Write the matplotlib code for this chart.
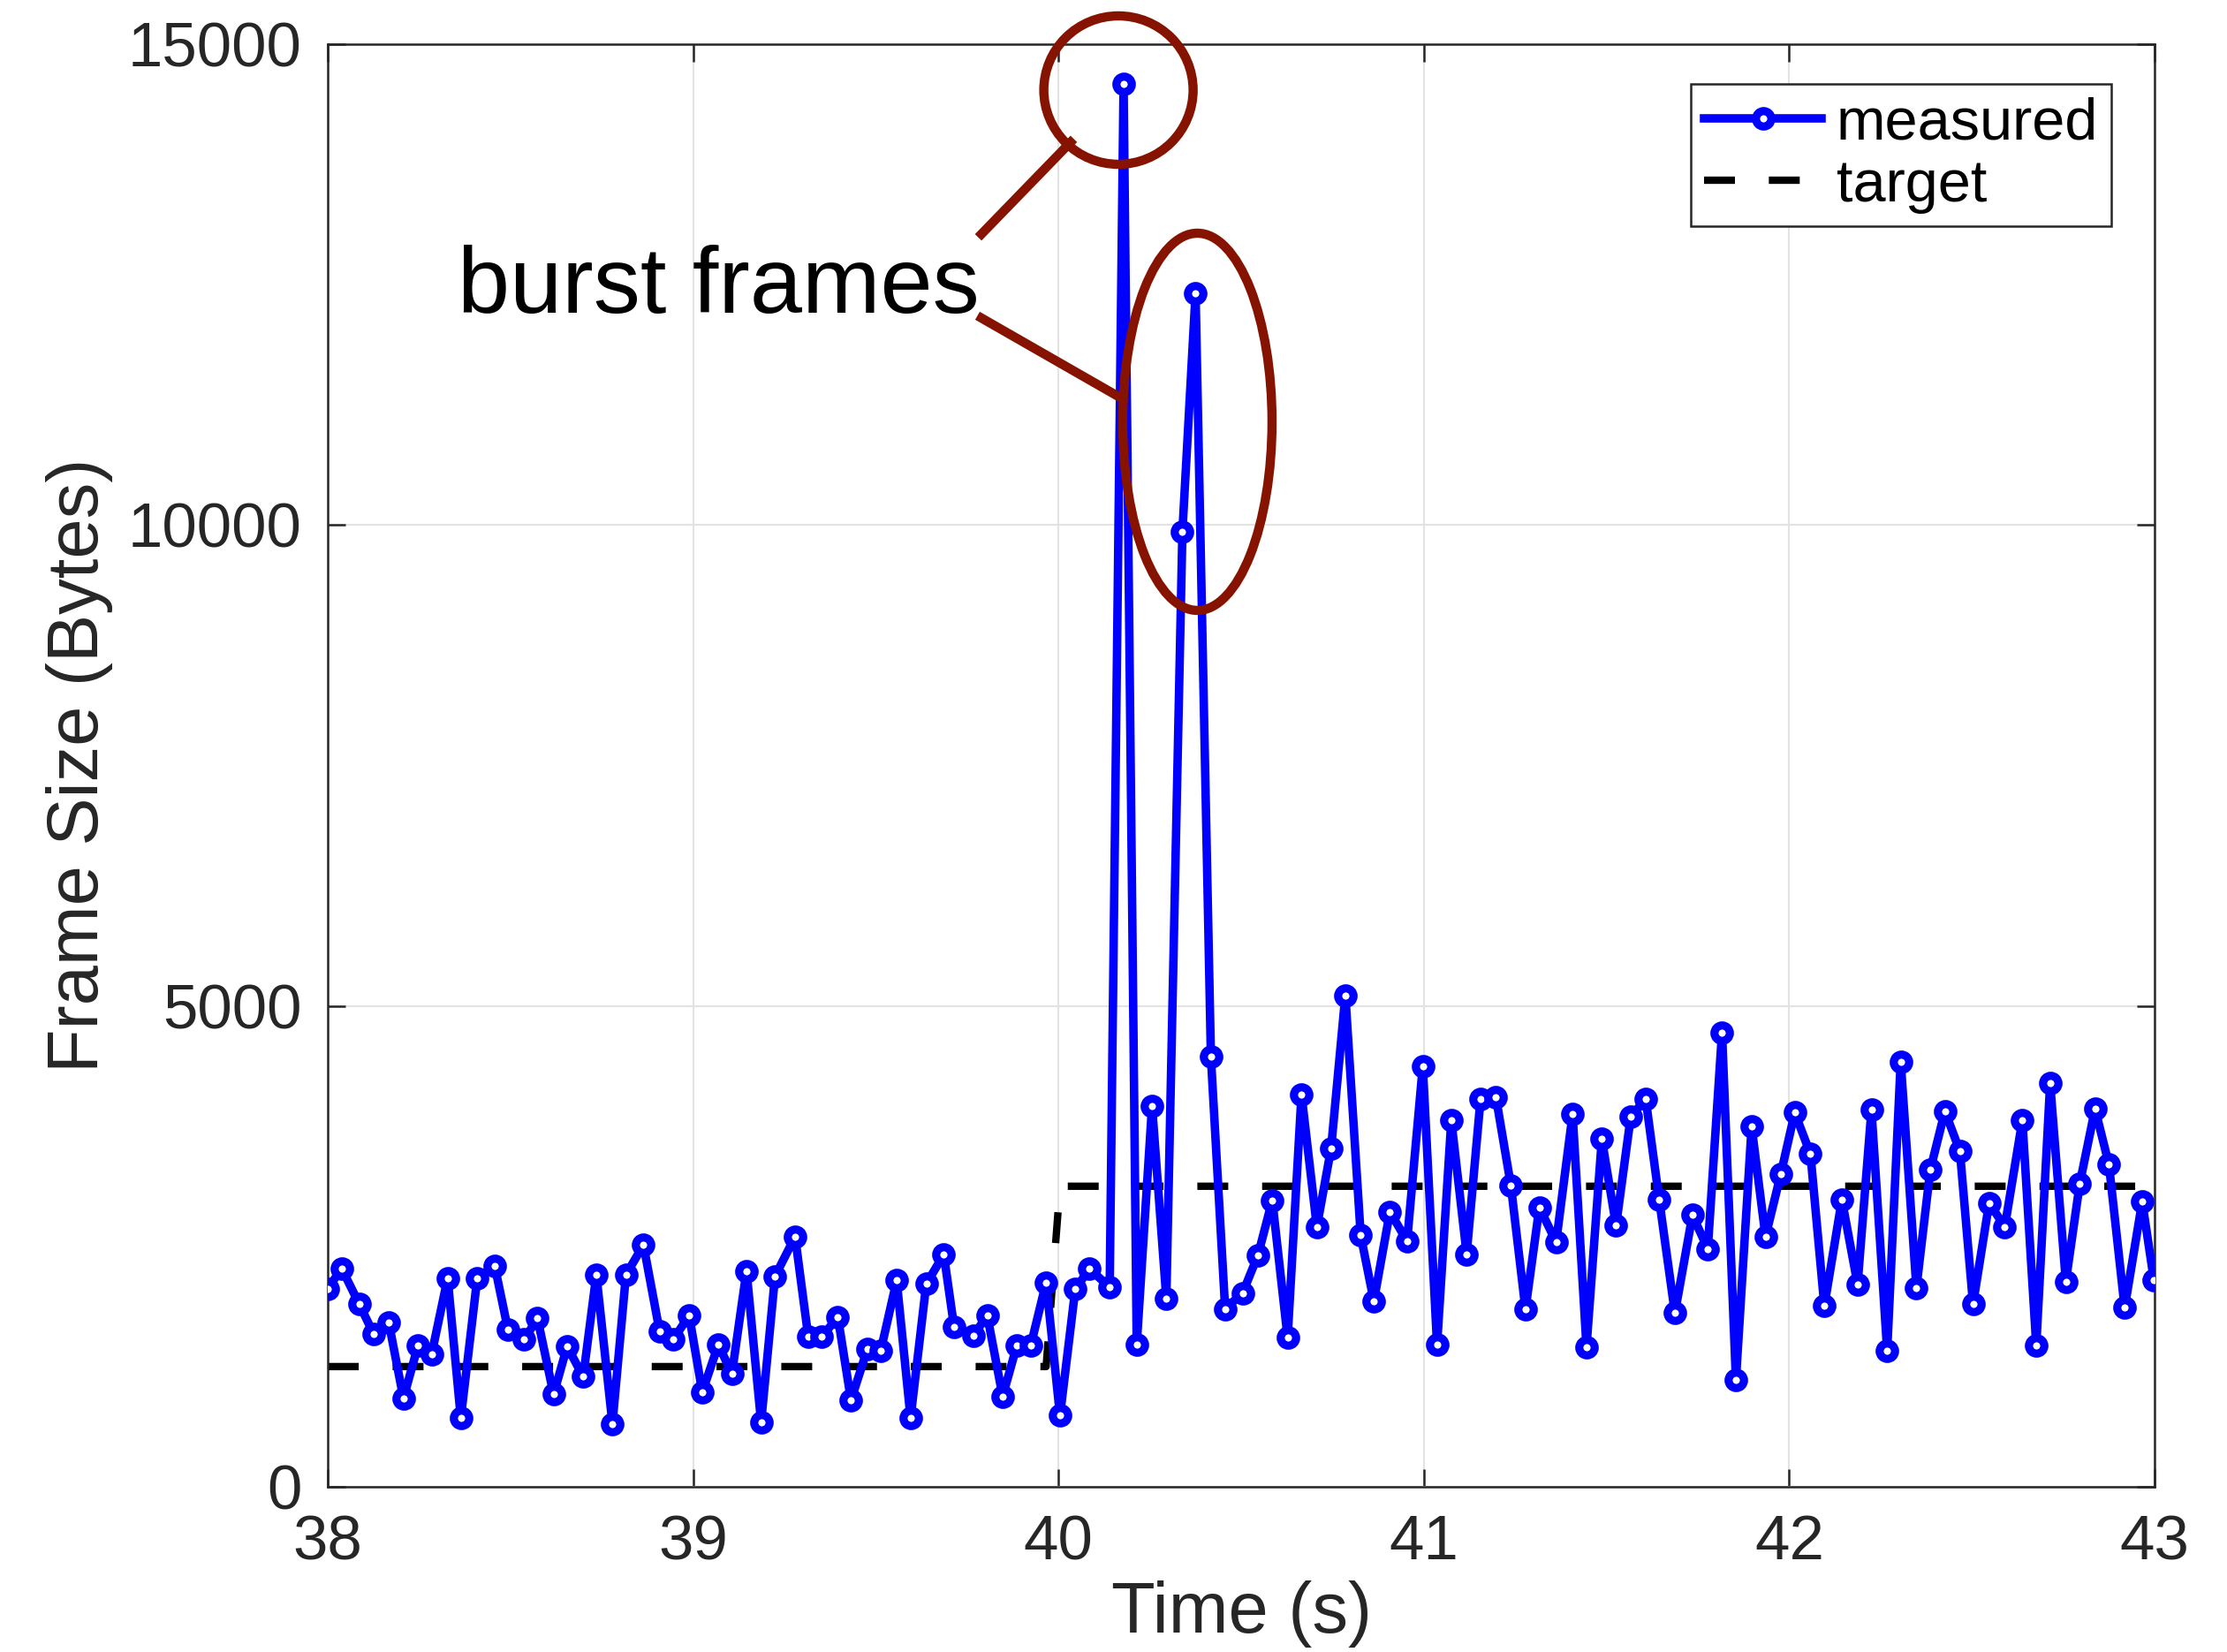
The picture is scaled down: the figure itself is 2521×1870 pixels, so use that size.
import matplotlib
matplotlib.use('Agg')
import matplotlib.pyplot as plt
from matplotlib.patches import Ellipse

plt.rcParams['font.family'] = ['Liberation Sans', 'DejaVu Sans']

# frame timestamps (s) and measured frame sizes (bytes)
times = [38.000, 38.038, 38.086, 38.126, 38.167, 38.207, 38.247, 38.284, 38.328, 38.364,
         38.409, 38.457, 38.493, 38.537, 38.574, 38.618, 38.655, 38.699, 38.735, 38.779,
         38.816, 38.864, 38.908, 38.945, 38.989, 39.025, 39.069, 39.106, 39.146, 39.186,
         39.224, 39.279, 39.315, 39.352, 39.396, 39.432, 39.477, 39.513, 39.557, 39.595,
         39.638, 39.686, 39.714, 39.767, 39.805, 39.847, 39.886, 39.924, 39.966, 40.004,
         40.046, 40.085, 40.140, 40.178, 40.214, 40.256, 40.295, 40.339, 40.375, 40.417,
         40.456, 40.504, 40.546, 40.585, 40.627, 40.665, 40.707, 40.746, 40.785, 40.827,
         40.863, 40.907, 40.954, 40.997, 41.036, 41.075, 41.117, 41.155, 41.197, 41.238,
         41.278, 41.316, 41.362, 41.407, 41.445, 41.487, 41.526, 41.566, 41.607, 41.644,
         41.687, 41.735, 41.777, 41.816, 41.854, 41.897, 41.935, 41.977, 42.015, 42.058,
         42.096, 42.144, 42.187, 42.225, 42.268, 42.305, 42.348, 42.386, 42.426, 42.467,
         42.503, 42.547, 42.590, 42.638, 42.676, 42.714, 42.757, 42.795, 42.837, 42.875,
         42.918, 42.966, 42.998]

measured = [2060, 2270, 1900, 1585, 1705, 920, 1470, 1375, 2170, 715,
            2170, 2295, 1635, 1530, 1750, 960, 1460, 1145, 2205, 655,
            2205, 2515, 1620, 1530, 1780, 985, 1480, 1175, 2245, 670,
            2190, 2600, 1560, 1560, 1765, 900, 1435, 1410, 2145, 715,
            2110, 2415, 1665, 1575, 1780, 940, 1470, 1470, 2125, 740,
            2060, 2265, 2076, 14590, 1480, 3960, 1960, 9930, 12410, 4470,
            1850, 2015, 2410, 2980, 1550, 4080, 2700, 3520, 5110, 2615,
            1930, 2860, 2555, 4375, 1475, 3810, 2420, 4030, 4055, 3135,
            1845, 2905, 2545, 3875, 1455, 3615, 2715, 3845, 4035, 2985,
            1805, 2825, 2475, 4725, 1110, 3745, 2600, 3255, 3890, 3460,
            1880, 2985, 2105, 3920, 1415, 4420, 2070, 3295, 3905, 3490,
            1900, 2950, 2705, 3810, 1470, 4195, 2135, 3150, 3930, 3350,
            1860, 2965, 2150]

# corners of the target (dashed) line
target_t = [38.000, 39.966, 40.004, 42.998]
target_v = [1250, 1250, 3125, 3125]

fig = plt.figure(figsize=(2521 / 300, 1870 / 300), dpi=300)
ax = fig.add_axes([0.1472, 0.1000, 0.8203, 0.8733])

ax.plot(times, measured, color='#0000ff', lw=2.3, marker='o', ms=4.2,
        mew=2.2, mfc='white', mec='#0000ff', label='measured', zorder=3)
ax.plot(target_t, target_v, color='black', lw=2.0, dashes=(4.2, 4.6),
        label='target', zorder=2)

ax.set_xlim(38, 43)
ax.set_ylim(0, 15000)
ax.set_xticks([38, 39, 40, 41, 42, 43])
ax.set_yticks([0, 5000, 10000, 15000])

ax.grid(True, color='#e3e3e3', lw=0.5)
ax.set_axisbelow(True)
ax.tick_params(direction='in', top=True, right=True, length=4.8, width=0.6,
               labelsize=17, colors='#262626')
ax.tick_params(axis='x', pad=7.5)
ax.tick_params(axis='y', pad=7)
for s in ax.spines.values():
    s.set_color('#262626')
    s.set_linewidth(0.6)

ax.set_xlabel('Time (s)', fontsize=19.5, color='#262626', labelpad=2)
ax.set_ylabel('Frame Size (Bytes)', fontsize=19.5, color='#262626', labelpad=4)

leg = ax.legend(loc='upper right', bbox_to_anchor=(0.9763, 0.9724), borderaxespad=0,
                fontsize=16, fancybox=False, framealpha=1, edgecolor='#262626',
                handlelength=2.0, handletextpad=0.25, borderpad=0.22,
                labelspacing=0.12, numpoints=1)
leg.get_frame().set_linewidth(0.6)

# hand-drawn annotation
red = '#861200'
ax.add_patch(Ellipse((40.164, 14522), 0.4086, 1543, fill=False, ec=red, lw=2.5,
                     clip_on=False, zorder=5))
ax.add_patch(Ellipse((40.380, 11073), 0.4086, 3922, fill=False, ec=red, lw=2.5,
                     clip_on=False, zorder=5))
ax.plot([39.789, 40.033], [13025, 13980], color=red, lw=2.5, zorder=5)
ax.plot([39.789, 40.169], [12152, 11325], color=red, lw=2.5, zorder=5)
ax.text(38.355, 12207, 'burst frames', fontsize=25.5, color='black',
        ha='left', va='baseline')

fig.savefig('out.png', dpi=300)
